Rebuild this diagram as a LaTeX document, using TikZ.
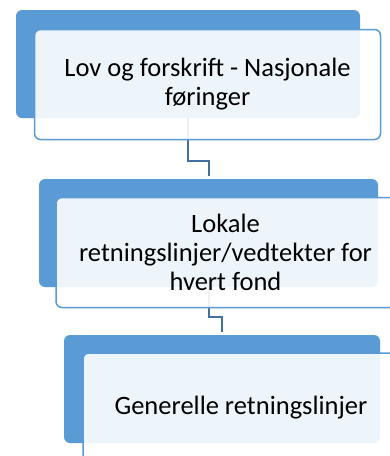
\documentclass[tikz,border=0pt]{standalone}
\usepackage{fontspec}
\setmainfont{Carlito}
\usepackage{xcolor}
\usepackage{tikz}
\usetikzlibrary{positioning,calc}
\definecolor{stepblue}{HTML}{5B9BD5}
\definecolor{linkblue}{HTML}{41719C}

\begin{document}
\begin{tikzpicture}[x=1pt,y=-1pt,
    backbox/.style={rectangle,rounded corners=6pt,fill=stepblue,minimum height=108pt,inner sep=0pt},
    frontbox/.style={rectangle,rounded corners=6pt,draw=stepblue,line width=1.5pt,fill=white,fill opacity=0.9,text opacity=1,
      minimum height=110pt,inner sep=0pt,align=center,font=\fontsize{26.5}{29}\selectfont},
    link/.style={draw=linkblue,line width=2pt,shorten >=3pt}]
    \clip (0,0) rectangle (390,456);
    \fill[white] (0,0) rectangle (390,456);

    % back boxes
    \node[backbox,minimum width=344pt] (back1) at (188,64) {};
    \node[backbox,minimum width=339pt] (back2) at (208.5,233) {};
    \node[backbox,minimum width=316pt] (back3) at (222,389) {};

    % connectors
    \coordinate (kink1) at (208.5,161);
    \coordinate (kink2) at (222,317);
    \draw[link] (back1.south) |- (kink1) -- (back2.north);
    \draw[link] (back2.south) |- (kink2) -- (back3.north);

    % front boxes with text
    \node[frontbox,minimum width=346pt] (front1) at (207.5,84.5) {Lov og forskrift - Nasjonale\\føringer};
    \node[frontbox,minimum width=339pt] (front2) at (225.5,252.5) {Lokale\\retningslinjer/vedtekter for\\hvert fond};
    \node[frontbox,minimum width=316pt] (front3) at (241,408) {Generelle retningslinjer};
\end{tikzpicture}
\end{document}
